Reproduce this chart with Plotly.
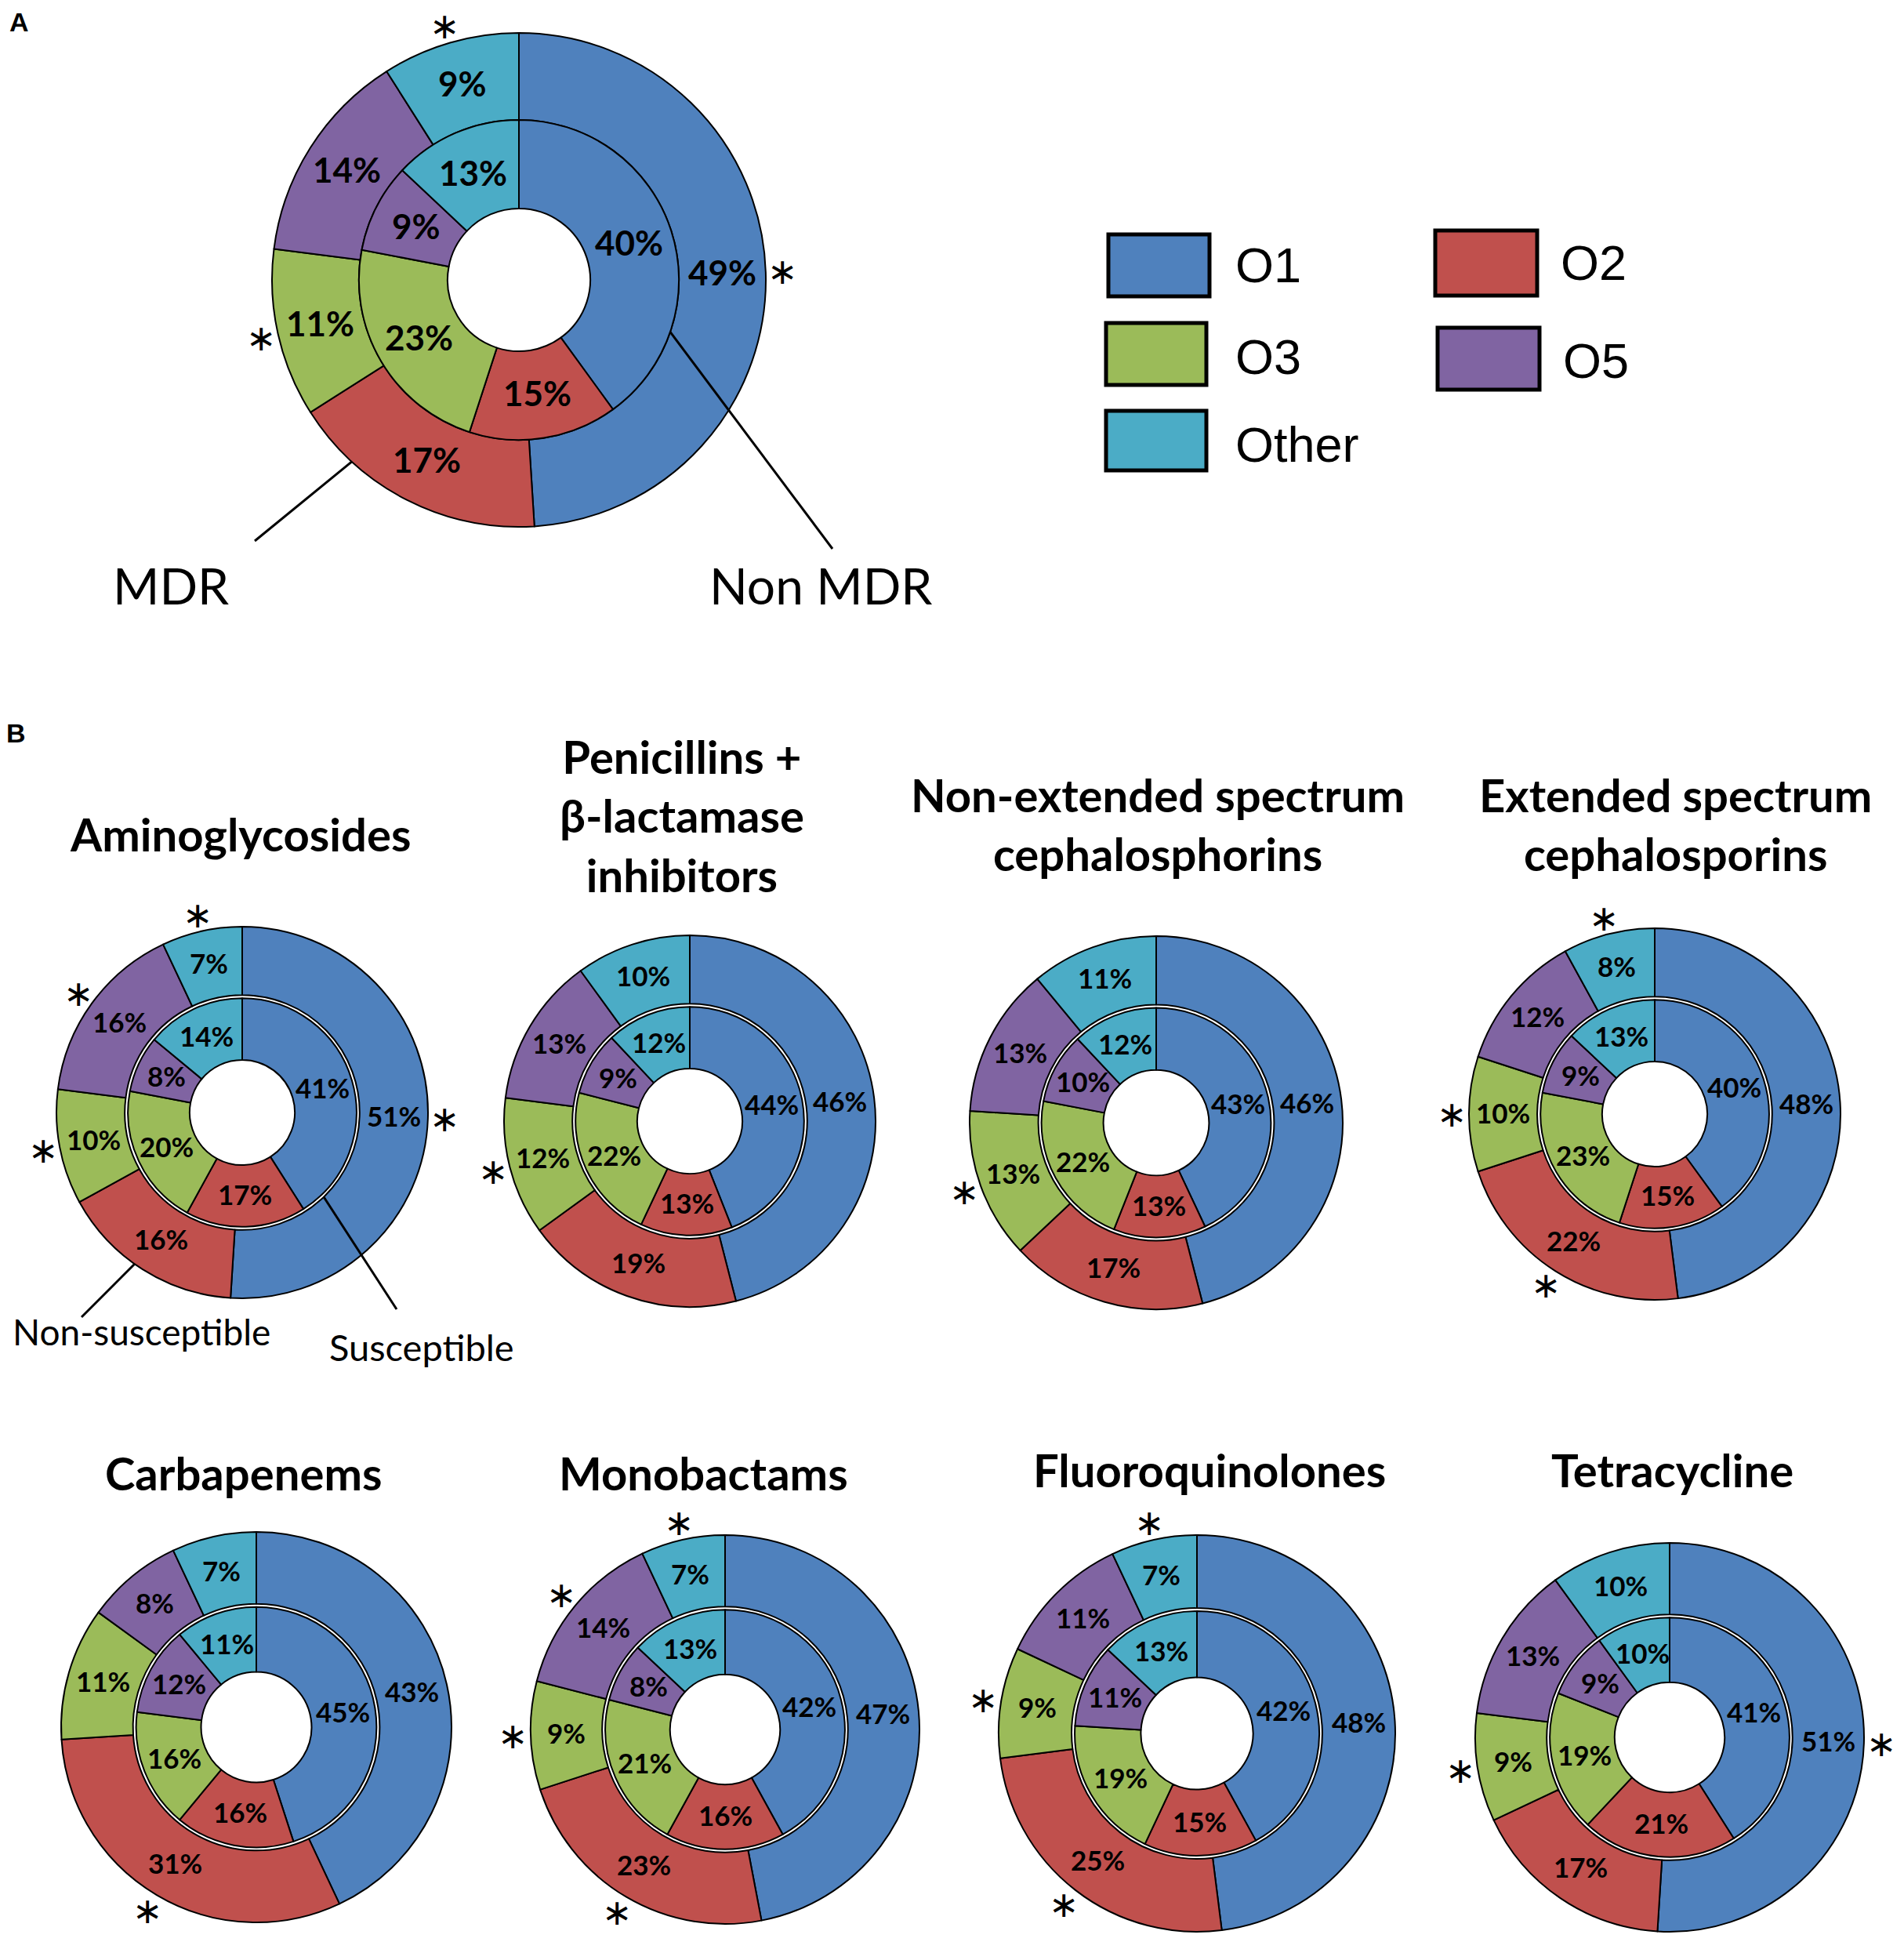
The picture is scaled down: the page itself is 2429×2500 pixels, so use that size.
import math
import plotly.graph_objects as go

# Target picture size; the page body adds an 8px margin, so the figure itself is
# made 16px smaller and all target positions are shifted by that offset.
W_IMG, H_IMG = 2429, 2500
OFF = 8
W, H = W_IMG - 2 * OFF, H_IMG - 2 * OFF

# ---------------- data ----------------
serotypes = ["O1", "O2", "O3", "O5", "Other"]
colors = ["#4F81BD", "#C0504D", "#9BBB59", "#8064A2", "#4BACC6"]

# Panel A: outer ring = MDR, inner ring = Non MDR
mdr = [49, 17, 11, 14, 9]
non_mdr = [40, 15, 23, 9, 13]
mdr_sig = ["O1", "O3", "Other"]

# Panel B: outer ring = Non-susceptible, inner ring = Susceptible
titles_b = [
    "Aminoglycosides",
    "Penicillins +<br>β-lactamase<br>inhibitors",
    "Non-extended spectrum<br>cephalosphorins",
    "Extended spectrum<br>cephalosporins",
    "Carbapenems",
    "Monobactams",
    "Fluoroquinolones",
    "Tetracycline",
]
amino_ns = [51, 16, 10, 16, 7]
amino_s = [41, 17, 20, 8, 14]
amino_sig = ["O1", "O3", "O5", "Other"]
pen_ns = [46, 19, 12, 13, 10]
pen_s = [44, 13, 22, 9, 12]
pen_sig = ["O3"]
nesc_ns = [46, 17, 13, 13, 11]
nesc_s = [43, 13, 22, 10, 12]
nesc_sig = ["O3"]
esc_ns = [48, 22, 10, 12, 8]
esc_s = [40, 15, 23, 9, 13]
esc_sig = ["O2", "O3", "Other"]
carb_ns = [43, 31, 11, 8, 7]
carb_s = [45, 16, 16, 12, 11]
carb_sig = ["O2"]
mono_ns = [47, 23, 9, 14, 7]
mono_s = [42, 16, 21, 8, 13]
mono_sig = ["O2", "O3", "O5", "Other"]
fq_ns = [48, 25, 9, 11, 7]
fq_s = [42, 15, 19, 11, 13]
fq_sig = ["O2", "O3", "Other"]
tet_ns = [51, 17, 9, 13, 10]
tet_s = [41, 21, 19, 9, 10]
tet_sig = ["O1", "O3"]

outer_b = [amino_ns, pen_ns, nesc_ns, esc_ns, carb_ns, mono_ns, fq_ns, tet_ns]
inner_b = [amino_s, pen_s, nesc_s, esc_s, carb_s, mono_s, fq_s, tet_s]
sig_b = [amino_sig, pen_sig, nesc_sig, esc_sig, carb_sig, mono_sig, fq_sig, tet_sig]

# ---------------- layout geometry (target-image pixels) ----------------
A_RATIOS = (0.648, 0.289, 0)   # inner-ring radius / R, hole / R, gap px
B_RATIOS = (0.632, 0.283, 4)
A_POS = (662, 357, 315)
B_POS = [(309, 1419, 237), (880, 1430, 237), (1475, 1432, 238), (2111, 1421, 237),
         (327, 2203, 249), (925, 2206, 248), (1527, 2211, 253), (2130, 2216, 248)]
B_TITLE_POS = [(306, 1068), (870, 1045), (1477, 1056), (2137, 1056),
               (310, 1883), (897, 1883), (1543, 1879), (2133, 1879)]

FONT = "Lato"


def px(x):
    return (x - OFF) / W


def py(y):
    return 1 - (y - OFF) / H


fig = go.Figure()
annotations = []
shapes = []


def slice_mids(vals):
    """Mid angle (radians, clockwise from 12 o'clock) of each slice."""
    total = sum(vals)
    cum = 0
    out = []
    for v in vals:
        out.append((cum + v / 2) / total * 2 * math.pi)
        cum += v
    return out


def add_donut(cx, cy, R, outer, inner, sig, tsize, ratios, star_r):
    ring, hole_r, gap = ratios
    ri = R * ring
    rin = ri - gap
    rings = [(outer, R, ring, ri), (inner, rin, hole_r * R / rin, hole_r * R)]
    for vals, rad, hole, r_lo in rings:
        fig.add_trace(go.Pie(
            labels=serotypes, values=vals, sort=False, direction="clockwise",
            rotation=0, hole=hole,
            domain=dict(x=[px(cx - rad), px(cx + rad)], y=[py(cy + rad), py(cy - rad)]),
            marker=dict(colors=colors, line=dict(color="black", width=2)),
            textinfo="none",
            showlegend=False, hoverinfo="label+value",
        ))
        # percentage labels at the middle of each ring segment
        rm = (rad + r_lo) / 2
        for v, a in zip(vals, slice_mids(vals)):
            annotations.append(dict(
                x=px(cx + rm * math.sin(a)), y=py(cy - rm * math.cos(a)),
                xref="paper", yref="paper", text=f"{v}%", showarrow=False,
                xanchor="center", yanchor="middle", yshift=2,
                font=dict(family=FONT, size=tsize, color="black", weight="bold"),
            ))
    for lab, a in zip(serotypes, slice_mids(outer)):
        if lab in sig:
            rr = R * star_r
            annotations.append(dict(
                x=px(cx + rr * math.sin(a)), y=py(cy - rr * math.cos(a)),
                xref="paper", yref="paper", text="∗", showarrow=False,
                xanchor="center", yanchor="middle",
                font=dict(family="DejaVu Sans", size=46, color="black"),
            ))


def ring_point(cx, cy, r, ang_deg):
    a = math.radians(ang_deg)
    return cx + r * math.sin(a), cy - r * math.cos(a)


# Panel A
add_donut(*A_POS, mdr, non_mdr, mdr_sig, 44, A_RATIOS, 1.07)

# Panel B
for (cx, cy, R), o, i, s in zip(B_POS, outer_b, inner_b, sig_b):
    add_donut(cx, cy, R, o, i, s, 35, B_RATIOS, 1.09)

for (tx, ty), t in zip(B_TITLE_POS, titles_b):
    annotations.append(dict(
        x=px(tx), y=py(ty), xref="paper", yref="paper", text=t, showarrow=False,
        xanchor="center", yanchor="middle", align="center", yshift=5,
        font=dict(family=FONT, size=58, color="black", weight="bold"),
    ))

# Panel letters
for lt, (lx, ly) in [("A", (24, 28)), ("B", (20, 935))]:
    annotations.append(dict(x=px(lx), y=py(ly), xref="paper", yref="paper", text=lt,
                            showarrow=False, xanchor="center", yanchor="middle",
                            font=dict(family="Liberation Sans", size=34, color="black", weight="bold")))

# Leader lines and ring labels
cxA, cyA, RA = A_POS
cxB, cyB, RB = B_POS[0]
leaders = [
    ("MDR", ring_point(cxA, cyA, RA, 222.6), (325, 690), (218, 751), 64),
    ("Non MDR", ring_point(cxA, cyA, RA * A_RATIOS[0], 109), (1062, 700), (1047, 751), 64),
    ("Non-susceptible", ring_point(cxB, cyB, RB, 215.4), (104, 1680), (180, 1703), 46),
    ("Susceptible", ring_point(cxB, cyB, RB * B_RATIOS[0], 136), (506, 1670), (538, 1723), 47),
]
for txt, (x0, y0), (x1, y1), (tx, ty), fs in leaders:
    shapes.append(dict(type="line", xref="paper", yref="paper",
                       x0=px(x0), y0=py(y0), x1=px(x1), y1=py(y1),
                       line=dict(color="black", width=3)))
    annotations.append(dict(x=px(tx), y=py(ty), xref="paper", yref="paper", text=txt,
                            showarrow=False, xanchor="center", yanchor="middle", yshift=5,
                            font=dict(family=FONT, size=fs, color="black")))

# Legend (custom, two columns)
legend_boxes = [(1414, 299, 1543, 378), (1831, 294, 1961, 377), (1411, 412, 1539, 491),
                (1834, 418, 1964, 497), (1411, 524, 1539, 600)]
legend_text = [(1574, 338), (1989, 335), (1574, 455), (1992, 460), (1574, 567)]
for lab, col, (x0, y0, x1, y1), (tx, ty) in zip(serotypes, colors, legend_boxes, legend_text):
    shapes.append(dict(type="rect", xref="paper", yref="paper",
                       x0=px(x0), y0=py(y1), x1=px(x1), y1=py(y0),
                       fillcolor=col, line=dict(color="black", width=5)))
    annotations.append(dict(x=px(tx), y=py(ty), xref="paper", yref="paper", text=lab,
                            showarrow=False, xanchor="left", yanchor="middle",
                            font=dict(family="Liberation Sans", size=63, color="black")))

fig.update_layout(
    width=W, height=H, margin=dict(l=0, r=0, t=0, b=0),
    paper_bgcolor="white", plot_bgcolor="white",
    annotations=annotations, shapes=shapes,
    showlegend=False,
)

fig.write_html("out.html")
